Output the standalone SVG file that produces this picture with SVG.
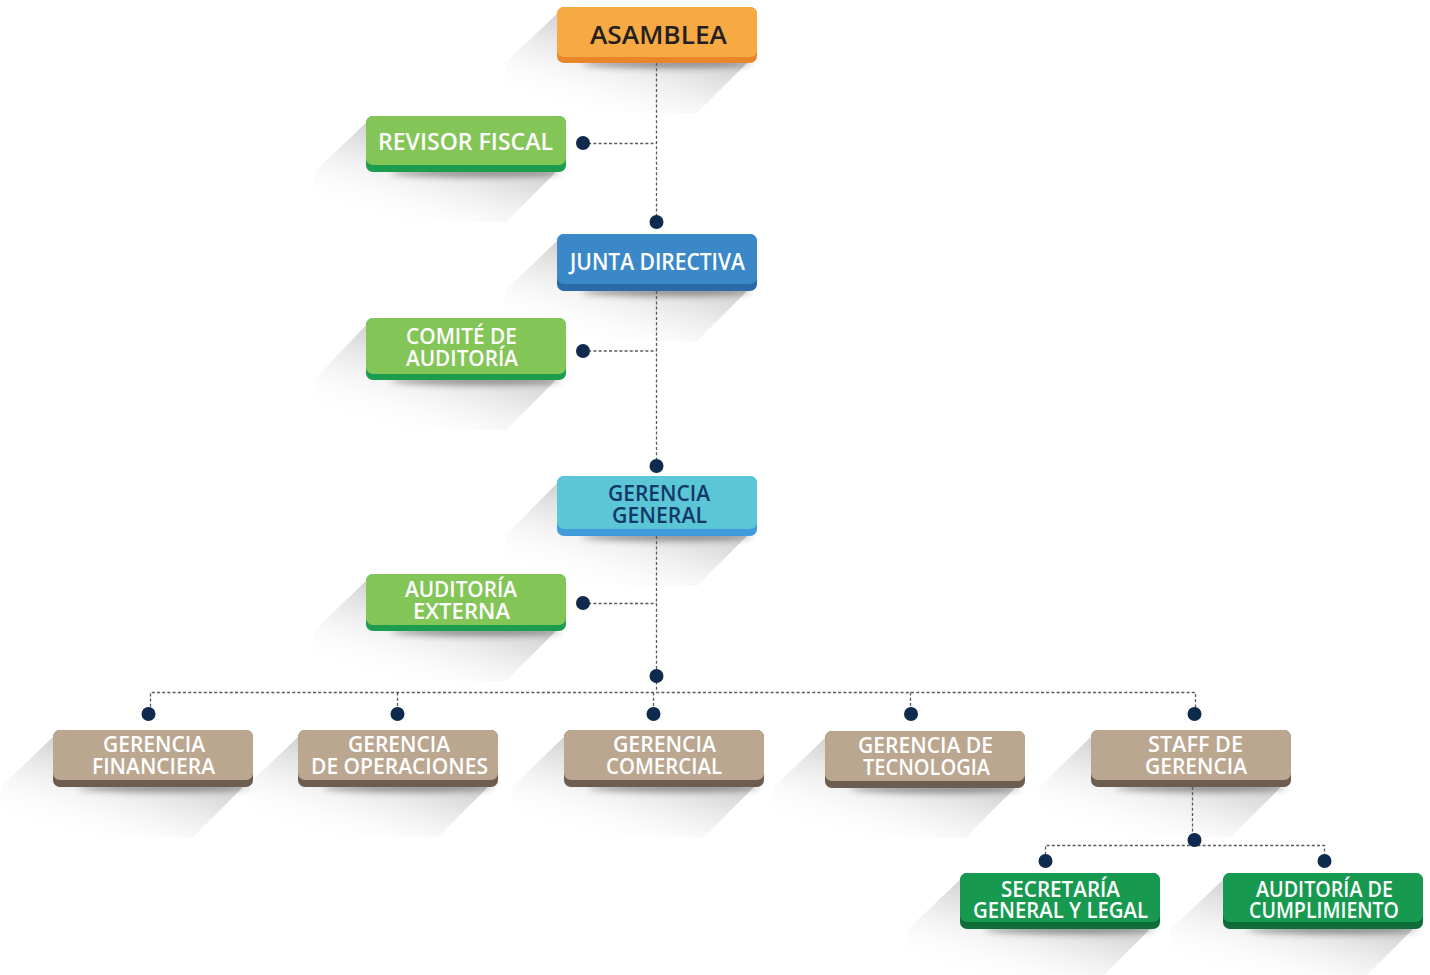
<svg xmlns="http://www.w3.org/2000/svg" width="1430" height="975" viewBox="0 0 1430 975">
<defs>
<linearGradient id="sh" x1="0.85" y1="0.05" x2="0.2" y2="0.95">
<stop offset="0" stop-color="#8a8a8a" stop-opacity="0.8"/>
<stop offset="0.5" stop-color="#cfcfcf" stop-opacity="0.55"/>
<stop offset="1" stop-color="#ffffff" stop-opacity="0"/>
</linearGradient>
<filter id="blur" x="-20%" y="-200%" width="140%" height="500%"><feGaussianBlur stdDeviation="3"/></filter>
<style>
.sh{fill:url(#sh)}
.ub{fill:#2a2a2a;opacity:.45;filter:url(#blur)}
.t{font-family:"Open Sans","Liberation Sans",Arial,sans-serif;font-weight:600;text-anchor:middle;fill:#ffffff}
.s21{font-size:21px}
.s22{font-size:22.5px}
.con{fill:none;stroke:#5a5a5a;stroke-width:1.3;stroke-dasharray:3 2.2}
.dot{fill:#0e2a4c}
.orb{fill:#e8872a}.orf{fill:#f7a944}
.lgb{fill:#1b9c4f}.lgf{fill:#84c558}
.blb{fill:#2a6aa9}.blf{fill:#3b88c9}
.cyb{fill:#3f9bd9}.cyf{fill:#5bc6d6}
.tnb{fill:#6d5c50}.tnf{fill:#bba690}
.dgb{fill:#0f6b38}.dgf{fill:#17994f}
</style>
</defs>
<rect width="1430" height="975" fill="#ffffff"/>
<g id="shadows">
<polygon class="sh" points="560,11 505,63 505,113 697,113 757,53"/>
<polygon class="sh" points="369,120 314,172 314,222 506,222 566,162"/>
<polygon class="sh" points="560,238 505,291 505,341 697,341 757,281"/>
<polygon class="sh" points="369,322 314,380 314,430 506,430 566,370"/>
<polygon class="sh" points="560,480 505,536 505,586 697,586 757,526"/>
<polygon class="sh" points="369,578 314,631 314,681 506,681 566,621"/>
<polygon class="sh" points="56,734 1,787 1,837 193,837 253,777"/>
<polygon class="sh" points="301,734 246,787 246,837 438,837 498,777"/>
<polygon class="sh" points="567,734 512,787 512,837 704,837 764,777"/>
<polygon class="sh" points="828,735 773,788 773,838 965,838 1025,778"/>
<polygon class="sh" points="1094,734 1039,787 1039,837 1231,837 1291,777"/>
<polygon class="sh" points="963,877 908,929 908,979 1100,979 1160,919"/>
<polygon class="sh" points="1226,877 1171,929 1171,979 1363,979 1423,919"/>
<ellipse class="ub" cx="667" cy="64" rx="85" ry="4"/>
<ellipse class="ub" cx="476" cy="173" rx="85" ry="4"/>
<ellipse class="ub" cx="667" cy="292" rx="85" ry="4"/>
<ellipse class="ub" cx="476" cy="381" rx="85" ry="4"/>
<ellipse class="ub" cx="667" cy="537" rx="85" ry="4"/>
<ellipse class="ub" cx="476" cy="632" rx="85" ry="4"/>
<ellipse class="ub" cx="163" cy="788" rx="85" ry="4"/>
<ellipse class="ub" cx="408" cy="788" rx="85" ry="4"/>
<ellipse class="ub" cx="674" cy="788" rx="85" ry="4"/>
<ellipse class="ub" cx="935" cy="789" rx="85" ry="4"/>
<ellipse class="ub" cx="1201" cy="788" rx="85" ry="4"/>
<ellipse class="ub" cx="1070" cy="930" rx="85" ry="4"/>
<ellipse class="ub" cx="1333" cy="930" rx="85" ry="4"/>
</g>
<g id="connectors">
<path class="con" d="M656.5 63 V222"/>
<path class="con" d="M656.5 291 V466"/>
<path class="con" d="M656.5 536 V692"/>
<path class="con" d="M583 143.5 H656.5"/>
<path class="con" d="M583 351 H656.5"/>
<path class="con" d="M583 603.5 H656.5"/>
<path class="con" d="M150.5 712 V692.5 H1195.5 V712"/>
<path class="con" d="M397.5 692.5 V712"/>
<path class="con" d="M653.5 692.5 V712"/>
<path class="con" d="M910.5 692.5 V712"/>
<path class="con" d="M1192.5 787 V845.5"/>
<path class="con" d="M1045.5 860 V845.5 H1324.5 V860"/>
<circle class="dot" cx="583" cy="143" r="7"/>
<circle class="dot" cx="656.5" cy="222" r="7"/>
<circle class="dot" cx="583" cy="351" r="7"/>
<circle class="dot" cx="656.5" cy="466" r="7"/>
<circle class="dot" cx="583" cy="603" r="7"/>
<circle class="dot" cx="656.5" cy="676" r="7"/>
<circle class="dot" cx="148.5" cy="714" r="7"/>
<circle class="dot" cx="397.5" cy="714" r="7"/>
<circle class="dot" cx="653.5" cy="714" r="7"/>
<circle class="dot" cx="911" cy="714" r="7"/>
<circle class="dot" cx="1194.5" cy="714" r="7"/>
<circle class="dot" cx="1194.5" cy="840" r="7"/>
<circle class="dot" cx="1045.5" cy="861" r="7"/>
<circle class="dot" cx="1324.5" cy="861" r="7"/>
</g>
<g id="asamblea">
<rect class="orb" x="557" y="7" width="200" height="56" rx="7"/>
<rect class="orf" x="557" y="7" width="200" height="50" rx="7"/>
<text class="t" x="658.5" y="44" font-size="26" textLength="137" lengthAdjust="spacingAndGlyphs" style="fill:#231f20">ASAMBLEA</text>
</g>
<g id="revisor-fiscal">
<rect class="lgb" x="366" y="116" width="200" height="56" rx="7"/>
<rect class="lgf" x="366" y="116" width="200" height="49" rx="7"/>
<text class="t s22" x="465.5" y="150" textLength="175" lengthAdjust="spacingAndGlyphs">REVISOR FISCAL</text>
</g>
<g id="junta-directiva">
<rect class="blb" x="557" y="234" width="200" height="57" rx="7"/>
<rect class="blf" x="557" y="234" width="200" height="50" rx="7"/>
<text class="t s22" x="657.5" y="270" textLength="175" lengthAdjust="spacingAndGlyphs">JUNTA DIRECTIVA</text>
</g>
<g id="comite-auditoria">
<rect class="lgb" x="366" y="318" width="200" height="62" rx="7"/>
<rect class="lgf" x="366" y="318" width="200" height="56" rx="7"/>
<text class="t s21" x="461.5" y="344" textLength="111" lengthAdjust="spacingAndGlyphs">COMITÉ DE</text>
<text class="t s21" x="462" y="366" textLength="112" lengthAdjust="spacingAndGlyphs">AUDITORÍA</text>
</g>
<g id="gerencia-general">
<rect class="cyb" x="557" y="476" width="200" height="60" rx="7"/>
<rect class="cyf" x="557" y="476" width="200" height="53" rx="7"/>
<text class="t s21" x="659" y="501" textLength="102" lengthAdjust="spacingAndGlyphs" style="fill:#12386a">GERENCIA</text>
<text class="t s21" x="659.5" y="523" textLength="95" lengthAdjust="spacingAndGlyphs" style="fill:#12386a">GENERAL</text>
</g>
<g id="auditoria-externa">
<rect class="lgb" x="366" y="574" width="200" height="57" rx="7"/>
<rect class="lgf" x="366" y="574" width="200" height="51" rx="7"/>
<text class="t s21" x="461" y="597" textLength="112" lengthAdjust="spacingAndGlyphs">AUDITORÍA</text>
<text class="t s21" x="461.5" y="619" textLength="97" lengthAdjust="spacingAndGlyphs">EXTERNA</text>
</g>
<g id="gerencia-financiera">
<rect class="tnb" x="53" y="730" width="200" height="57" rx="7"/>
<rect class="tnf" x="53" y="730" width="200" height="50" rx="7"/>
<text class="t s21" x="154" y="752" textLength="102" lengthAdjust="spacingAndGlyphs">GERENCIA</text>
<text class="t s21" x="153.5" y="774" textLength="123" lengthAdjust="spacingAndGlyphs">FINANCIERA</text>
</g>
<g id="gerencia-operaciones">
<rect class="tnb" x="298" y="730" width="200" height="57" rx="7"/>
<rect class="tnf" x="298" y="730" width="200" height="50" rx="7"/>
<text class="t s21" x="399" y="752" textLength="102" lengthAdjust="spacingAndGlyphs">GERENCIA</text>
<text class="t s21" x="399.5" y="774" textLength="177" lengthAdjust="spacingAndGlyphs">DE OPERACIONES</text>
</g>
<g id="gerencia-comercial">
<rect class="tnb" x="564" y="730" width="200" height="57" rx="7"/>
<rect class="tnf" x="564" y="730" width="200" height="50" rx="7"/>
<text class="t s21" x="664.5" y="752" textLength="103" lengthAdjust="spacingAndGlyphs">GERENCIA</text>
<text class="t s21" x="664" y="774" textLength="116" lengthAdjust="spacingAndGlyphs">COMERCIAL</text>
</g>
<g id="gerencia-tecnologia">
<rect class="tnb" x="825" y="731" width="200" height="57" rx="7"/>
<rect class="tnf" x="825" y="731" width="200" height="50" rx="7"/>
<text class="t s21" x="925.5" y="753" textLength="135" lengthAdjust="spacingAndGlyphs">GERENCIA DE</text>
<text class="t s21" x="926.5" y="775" textLength="127" lengthAdjust="spacingAndGlyphs">TECNOLOGIA</text>
</g>
<g id="staff-gerencia">
<rect class="tnb" x="1091" y="730" width="200" height="57" rx="7"/>
<rect class="tnf" x="1091" y="730" width="200" height="50" rx="7"/>
<text class="t s21" x="1195.5" y="752" textLength="95" lengthAdjust="spacingAndGlyphs">STAFF DE</text>
<text class="t s21" x="1196" y="774" textLength="102" lengthAdjust="spacingAndGlyphs">GERENCIA</text>
</g>
<g id="secretaria-general">
<rect class="dgb" x="960" y="873" width="200" height="56" rx="7"/>
<rect class="dgf" x="960" y="873" width="200" height="49" rx="7"/>
<text class="t s21" x="1060.5" y="896.5" textLength="119" lengthAdjust="spacingAndGlyphs">SECRETARÍA</text>
<text class="t s21" x="1060.5" y="918" textLength="175" lengthAdjust="spacingAndGlyphs">GENERAL Y LEGAL</text>
</g>
<g id="auditoria-cumplimiento">
<rect class="dgb" x="1223" y="873" width="200" height="56" rx="7"/>
<rect class="dgf" x="1223" y="873" width="200" height="49" rx="7"/>
<text class="t s21" x="1324.5" y="896.5" textLength="137" lengthAdjust="spacingAndGlyphs">AUDITORÍA DE</text>
<text class="t s21" x="1324" y="918" textLength="150" lengthAdjust="spacingAndGlyphs">CUMPLIMIENTO</text>
</g>
</svg>
